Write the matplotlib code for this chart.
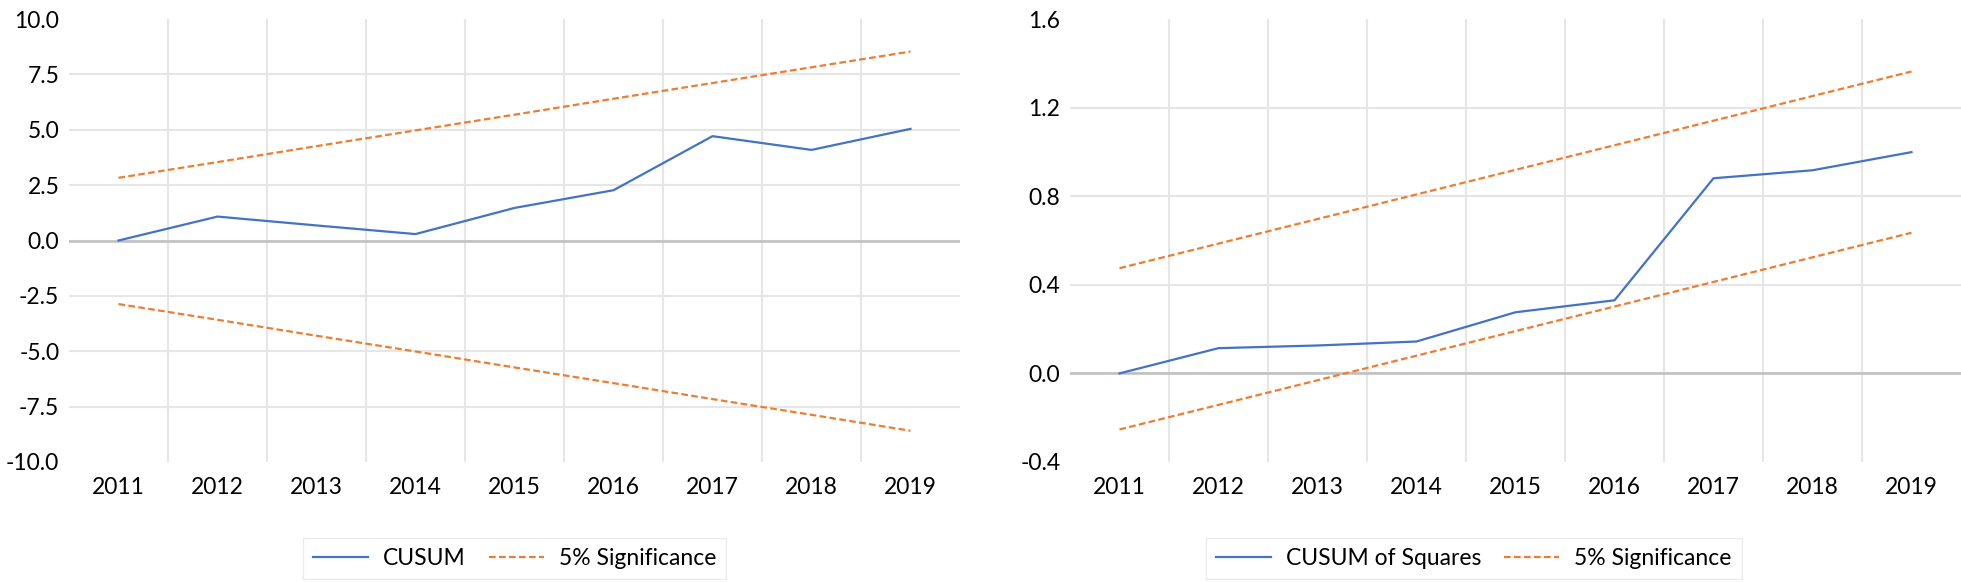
import matplotlib
matplotlib.use('Agg')
from matplotlib import pyplot as plt
from matplotlib.ticker import FixedLocator

# data
years = ['2011', '2012', '2013', '2014', '2015', '2016', '2017', '2018', '2019']

cusum = [0.0, 1.08, 0.68, 0.29, 1.47, 2.27, 4.71, 4.09, 5.04]
cusum_upper = [2.83, 3.54, 4.26, 4.97, 5.68, 6.40, 7.11, 7.82, 8.53]
cusum_lower = [-2.87, -3.58, -4.30, -5.01, -5.73, -6.44, -7.16, -7.87, -8.59]

cusum_sq = [0.0, 0.114, 0.126, 0.144, 0.276, 0.330, 0.881, 0.917, 0.999]
cusum_sq_upper = [0.475, 0.586, 0.697, 0.808, 0.919, 1.030, 1.141, 1.252, 1.363]
cusum_sq_lower = [-0.253, -0.142, -0.031, 0.080, 0.191, 0.302, 0.413, 0.524, 0.635]

BLUE = '#4472C4'
ORANGE = '#ED7D31'
GRID = '#E6E6E6'
FS = 16.5

plt.rcParams['font.family'] = ['Lato', 'DejaVu Sans']

W, H = 1961, 582
fig = plt.figure(figsize=(W / 100, H / 100), dpi=100)


def make_axes(left_px, ylim, yticks, fmt):
    top, bottom, width = 19, 462, 891
    ax = fig.add_axes([left_px / W, 1 - bottom / H, width / W, (bottom - top) / H])
    x = range(len(years))
    ax.set_xlim(-0.5, len(years) - 0.5)
    ax.set_xticks(list(x))
    ax.set_xticklabels(years, fontsize=FS)
    ax.xaxis.set_minor_locator(FixedLocator([i + 0.5 for i in range(len(years) - 1)]))
    ax.set_ylim(*ylim)
    ax.set_yticks(yticks)
    ax.set_yticklabels([fmt.format(v) for v in yticks], fontsize=FS)
    ax.tick_params(which='both', length=0)
    ax.tick_params(axis='x', pad=11)
    ax.tick_params(axis='y', pad=7)
    for s in ax.spines.values():
        s.set_visible(False)
    ax.grid(True, which='minor', axis='x', color=GRID, lw=1.5)
    ax.grid(True, which='major', axis='y', color=GRID, lw=1.5)
    gl = ax.get_ygridlines()
    gl[0].set_visible(False)
    gl[-1].set_visible(False)
    ax.axhline(0, color='#BFBFBF', lw=1.8, zorder=1)
    ax.set_axisbelow(True)
    return ax, list(x)


def add_legend(lines, labels, center_px):
    fig.legend(lines, labels, loc='center', ncol=2,
               bbox_to_anchor=(center_px / W, 1 - 558.5 / H),
               fontsize=FS, frameon=True, fancybox=False, edgecolor=GRID,
               handlelength=2.4, columnspacing=1.0, borderpad=0.45,
               handletextpad=0.65)


# CUSUM
ax1, x = make_axes(69, (-10, 10), [-10, -7.5, -5, -2.5, 0, 2.5, 5, 7.5, 10], '{:.1f}')
l1, = ax1.plot(x, cusum, color=BLUE, lw=1.6, zorder=3)
l2, = ax1.plot(x, cusum_upper, color=ORANGE, lw=1.6, ls=(0, (3, 1.5)), zorder=3)
ax1.plot(x, cusum_lower, color=ORANGE, lw=1.6, ls=(0, (3, 1.5)), zorder=3)
add_legend([l1, l2], ['CUSUM', '5% Significance'], 514.5)

# CUSUM of squares
ax2, x = make_axes(1070, (-0.4, 1.6), [-0.4, 0.0, 0.4, 0.8, 1.2, 1.6], '{:.1f}')
m1, = ax2.plot(x, cusum_sq, color=BLUE, lw=1.6, zorder=3)
m2, = ax2.plot(x, cusum_sq_upper, color=ORANGE, lw=1.6, ls=(0, (3, 1.5)), zorder=3)
ax2.plot(x, cusum_sq_lower, color=ORANGE, lw=1.6, ls=(0, (3, 1.5)), zorder=3)
add_legend([m1, m2], ['CUSUM of Squares', '5% Significance'], 1474)

fig.savefig('out.png', dpi=100)
